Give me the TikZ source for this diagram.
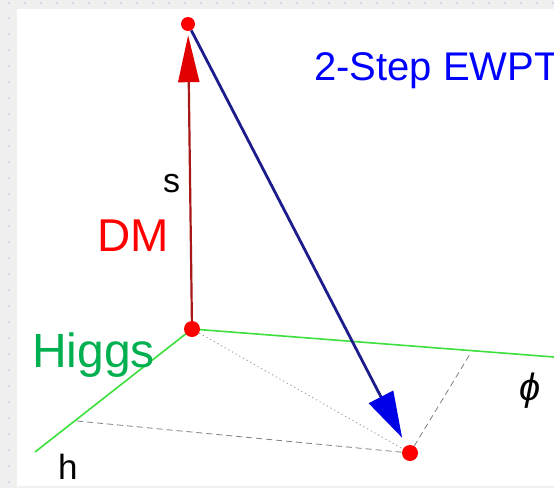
\documentclass[tikz,border=0pt]{standalone}
\usepackage{fontspec}
\setmainfont{Liberation Sans}
\usetikzlibrary{arrows.meta}
\definecolor{frame}{HTML}{F0F0F0}
\definecolor{griddot}{HTML}{A8C4E8}
\definecolor{axisgreen}{HTML}{3CE03C}
\definecolor{higgsgreen}{HTML}{00B050}
\definecolor{dmred}{HTML}{FF0000}
\definecolor{darkred}{HTML}{A81818}
\definecolor{navy}{HTML}{1C1C8C}
\definecolor{conblue}{HTML}{0000E6}
\definecolor{ewblue}{HTML}{0000FF}
\tikzset{
  pt/.style={circle,fill=red,draw=none,minimum size=15pt,inner sep=0},
  axisline/.style={axisgreen,line width=1.6pt},
  guide/.style={gray,line width=0.8pt,dash pattern=on 6pt off 4pt},
  guidedot/.style={gray!80,line width=0.8pt,dash pattern=on 1.2pt off 3pt},
  lbl/.style={inner sep=0,anchor=base west},
}
\begin{document}
\begin{tikzpicture}[x=1pt,y=-1pt]
\useasboundingbox (0,0) rectangle (554,488);
% editor frame
\fill[frame] (0,0) rectangle (554,488);
\fill[white] (17,9) rectangle (554,486);
\foreach \i in {0,...,34} {\fill[griddot] (9+16*\i,3) circle (0.9);}
\foreach \j in {1,...,30} {\fill[griddot] (9,2+16*\j) circle (0.9);}
% coordinates
\coordinate (hEnd) at (35,452);
\coordinate (phiEnd) at (554,357);
\coordinate (hFoot) at (77,421);
\coordinate (phiFoot) at (470,354);
% axes
\draw[axisline] (192,329) -- (hEnd);
\draw[axisline] (192,329) -- (phiEnd);
% points
\node[pt,minimum size=16pt] (O) at (192,329) {};
\node[pt,minimum size=14pt] (T) at (188,24) {};
\node[pt,minimum size=16pt] (B) at (410,453) {};
% guides
\draw[guidedot] (O) -- (B);
\draw[guide] (hFoot) -- (B);
\draw[guide] (B) -- (phiFoot);
% DM arrow
\draw[darkred,line width=2.2pt,-{Triangle[length=47pt,width=21pt,fill=red!88!black,color=red!88!black]},shorten >=4pt] (O) -- (T);
% 2-step arrow
\draw[navy,line width=2.8pt,-{Triangle[length=46pt,width=27pt,fill=conblue,color=conblue]},shorten >=9pt] (T) -- (B);
% labels
\node[lbl,ewblue,font=\fontsize{40}{48}\selectfont] (title) at (314,80) {2-Step EWPT};
\node[lbl,black,font=\fontsize{34}{40}\selectfont] (s) at (163,192) {s};
\node[lbl,dmred,font=\fontsize{46}{54}\selectfont] (dm) at (97,251) {DM};
\node[lbl,higgsgreen,font=\fontsize{48}{56}\selectfont] (higgs) at (32,367) {Higgs};
\node[lbl,black,font=\fontsize{35}{42}\selectfont] (h) at (58,479) {h};
\node[inner sep=0,black,font=\fontsize{38}{44}\selectfont\itshape] (phi) at (530,391) {ϕ};
\end{tikzpicture}
\end{document}
